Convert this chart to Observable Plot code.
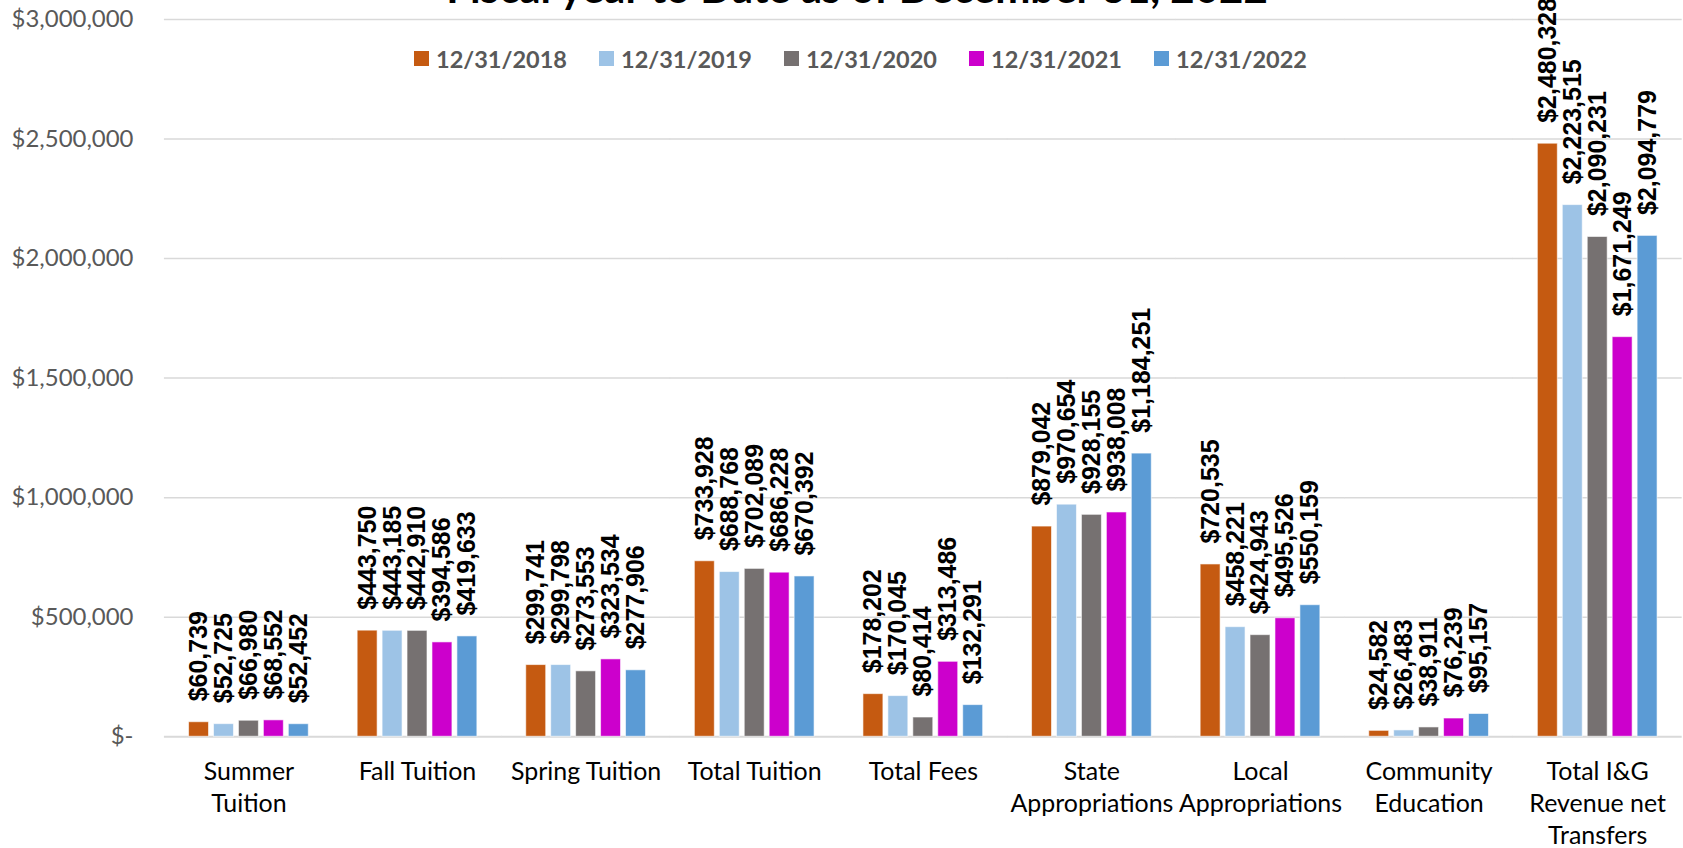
<!DOCTYPE html>
<html>
<head>
<meta charset="utf-8">
<script src="https://cdn.jsdelivr.net/npm/d3@7"></script>
<script src="https://cdn.jsdelivr.net/npm/@observablehq/plot@0.6"></script>
<style>
  html, body { margin: 0; padding: 0; background: #fff; overflow: hidden; }
  #wrap { position: relative; width: 1683px; height: 848px; overflow: hidden; }
  #chart { position: absolute; left: 0; top: 0; }
  #title { position: absolute; left: 857px; top: -34px; transform: translateX(-50%); white-space: nowrap;
           font: bold 42px/42px Lato, sans-serif; color: #000; }
  #legend { position: absolute; left: 414px; top: 42px; }
  #legend > div { font: bold 23.5px Lato, sans-serif !important; color: #595959; margin: 0; }
  #legend span { width: 185px; margin-right: 0; }
  #legend span > svg { margin-right: 7px; }
</style>
</head>
<body>
<div id="wrap">
  <div id="chart"></div>
  <div id="title">Fiscal year to Date as of December 31, 2022</div>
  <div id="legend"></div>
</div>
<script>
const categories = ["Summer Tuition", "Fall Tuition", "Spring Tuition", "Total Tuition", "Total Fees",
  "State Appropriations", "Local Appropriations", "Community Education", "Total I&G Revenue net Transfers"];
const categoryLabels = ["Summer\nTuition", "Fall Tuition", "Spring Tuition", "Total Tuition", "Total Fees",
  "State\nAppropriations", "Local\nAppropriations", "Community\nEducation", "Total I&G\nRevenue net\nTransfers"];
const seriesNames = ["12/31/2018", "12/31/2019", "12/31/2020", "12/31/2021", "12/31/2022"];
const values2018 = [60739, 443750, 299741, 733928, 178202, 879042, 720535, 24582, 2480328];
const values2019 = [52725, 443185, 299798, 688768, 170045, 970654, 458221, 26483, 2223515];
const values2020 = [66980, 442910, 273553, 702089, 80414, 928155, 424943, 38911, 2090231];
const values2021 = [68552, 394586, 323534, 686228, 313486, 938008, 495526, 76239, 1671249];
const values2022 = [52452, 419633, 277906, 670392, 132291, 1184251, 550159, 95157, 2094779];
const seriesColors = ["#C55A11", "#9DC3E6", "#767171", "#CC00CC", "#5B9BD5"];
const yTicks = [0, 500000, 1000000, 1500000, 2000000, 2500000, 3000000];

const seriesValues = [values2018, values2019, values2020, values2021, values2022];
const data = categories.flatMap((c, i) =>
  seriesNames.map((s, j) => ({category: c, series: s, value: seriesValues[j][i]})));
const labelOf = new Map(categories.map((c, i) => [c, categoryLabels[i]]));
const money = d3.format(",");

const W = 1687, H = 848, ML = 163;
const pInner = 0.268, pOuter = 0.134;
const step = (W - ML) / categories.length;
const gap = step * pInner;
const frameLeft = ML + step * pOuter;

const chart = Plot.plot({
  width: W,
  height: H,
  marginLeft: ML,
  marginRight: 0,
  marginTop: 19,
  marginBottom: 110,
  style: {fontFamily: "Lato, sans-serif", background: "transparent", overflow: "visible"},
  fx: {domain: categories, paddingInner: pInner, paddingOuter: pOuter, label: null},
  x: {domain: seriesNames, paddingInner: 0.19, paddingOuter: 0, axis: null},
  y: {domain: [0, 3000000], label: null},
  color: {domain: seriesNames, range: seriesColors},
  marks: [
    Plot.ruleY(yTicks.filter(d => d > 0), {stroke: "#d9d9d9", strokeWidth: 1.5, insetLeft: -gap / 2, insetRight: -gap / 2}),
    Plot.ruleY([0], {stroke: "#d9d9d9", strokeWidth: 2, insetLeft: -gap / 2, insetRight: -gap / 2}),
    Plot.barY(data, {fx: "category", x: "series", y: "value", fill: "series", stroke: "white", strokeWidth: 1, strokeOpacity: 0.6}),
    Plot.text(data, {fx: "category", x: "series", y: "value", text: d => "$" + money(d.value),
      rotate: -90, textAnchor: "start", lineAnchor: "middle", dy: -21,
      fontSize: 25, fontWeight: "bold", fontFamily: "'Liberation Sans', Arial, sans-serif", fill: "#000"}),
    Plot.axisY({ticks: yTicks, tickFormat: d => d === 0 ? "$-" : "$" + money(d), tickSize: 0,
      tickPadding: frameLeft - 132, fontSize: 24, fill: "#595959", label: null}),
    Plot.axisFx({anchor: "bottom", tickFormat: d => labelOf.get(d), tickSize: 0, tickPadding: 21,
      fontSize: 25, lineHeight: 1.28, fill: "#000", label: null})
  ]
});
document.getElementById("chart").appendChild(chart);

const legend = Plot.legend({color: {domain: seriesNames, range: seriesColors}, legend: "swatches", swatchSize: 15});
document.getElementById("legend").appendChild(legend);
</script>
</body>
</html>
